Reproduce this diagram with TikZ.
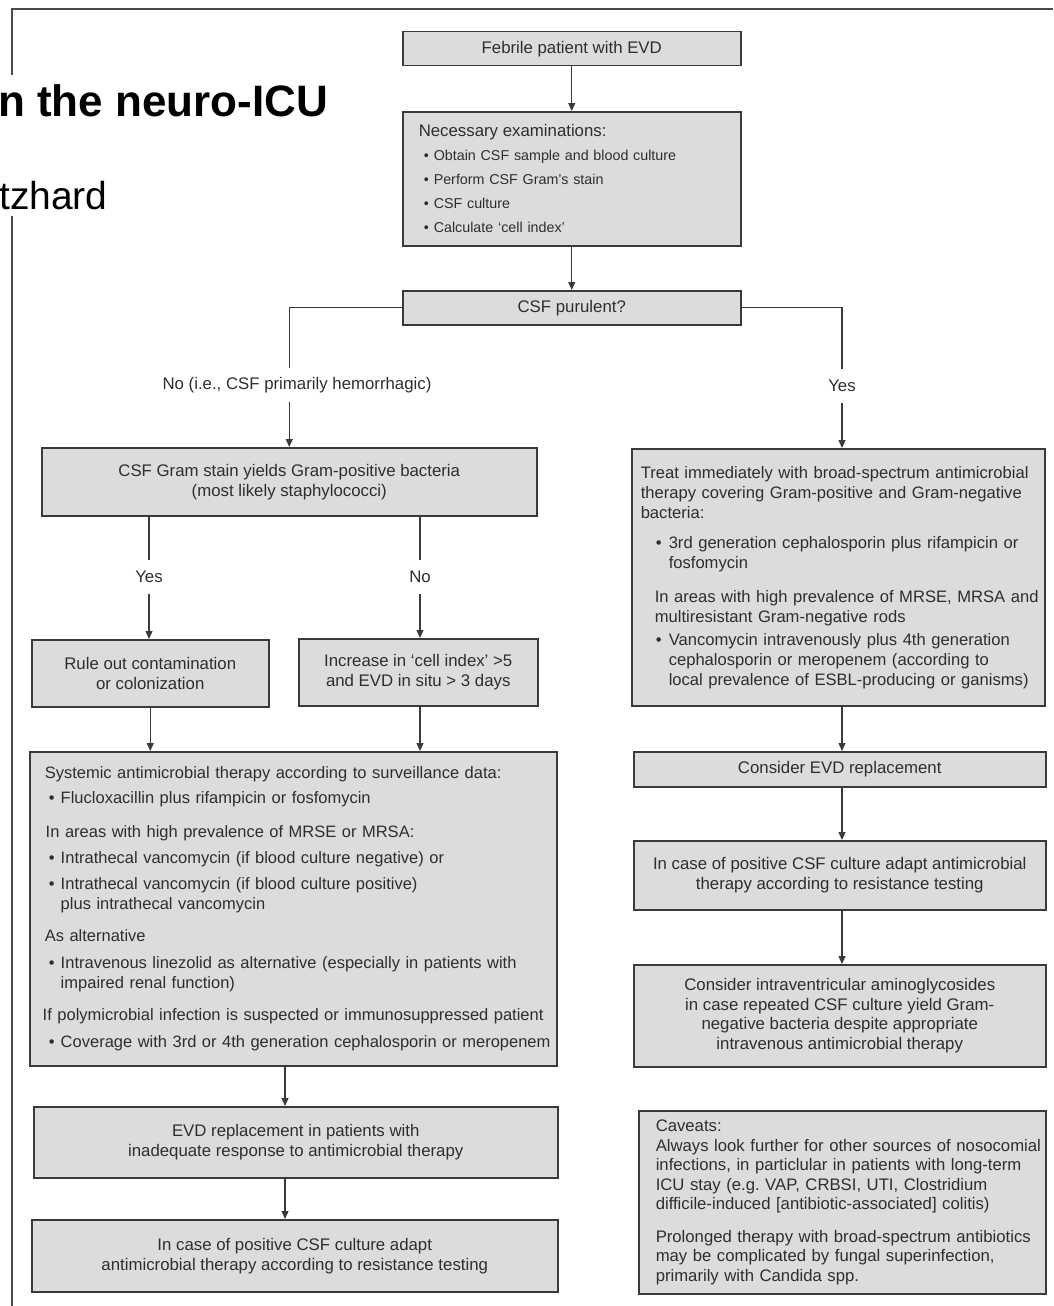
\documentclass[tikz,border=0pt]{standalone}
\usepackage{fontspec}
\setmainfont{Liberation Sans}
\usetikzlibrary{arrows.meta}
\definecolor{Ink}{HTML}{2E2E2E}
\definecolor{Edge}{HTML}{3A3A3A}
\definecolor{BoxFill}{HTML}{DCDCDE}
\definecolor{Frame}{HTML}{4A4A4A}
\newcommand{\bul}[1][13pt]{\makebox[#1][l]{\textbullet}}
\newcommand{\lmargin}[1]{\leftskip=#1\relax\rightskip=0pt plus 1fil minus 12pt\relax}
\tikzset{box/.style={draw=Edge,fill=BoxFill,line width=1.5pt,anchor=north west,inner sep=0pt,align=center,text=Ink,font=\fontsize{16.8}{20}\selectfont},txtbox/.style={box,align=left},lab/.style={inner sep=0pt,minimum height=34pt,text=Ink,font=\fontsize{16.8}{20}\selectfont},flow/.style={-{Triangle[length=8pt,width=7pt]},line width=1.2pt,draw=Edge},link/.style={line width=1.2pt,draw=Edge},frame/.style={line width=1.8pt,draw=Frame}}
\begin{document}
\begin{tikzpicture}[x=1pt,y=-1pt]
  \useasboundingbox (0,0) rectangle (1053,1306);
  % page frame and cut title
  \draw[frame] (12,75) |- (1053,9);
  \draw[frame] (12,216) -- (12,1306);
  \node[anchor=base west,inner sep=0pt,font=\fontsize{44}{50}\selectfont\bfseries] (title) at (-2,116) {n the neuro-ICU};
  \node[anchor=base west,inner sep=0pt,font=\fontsize{39}{46}\selectfont] (author) at (-1,209) {tzhard};
  % column lines
  \coordinate (lcol) at (285,0);
  \coordinate (rcol) at (842,0);
  % top
  \node[box,minimum width=338,minimum height=34] (febrile) at (402,31) {Febrile patient with EVD};
  \node[txtbox,text width=338,minimum width=338,minimum height=134,font=\fontsize{14.3}{24}\selectfont] (exams) at (402,111) {\lmargin{16pt}{\fontsize{16.8}{24}\selectfont Necessary examinations:}\\
    \hspace*{5pt}\bul[10pt]Obtain CSF sample and blood culture\\
    \hspace*{5pt}\bul[10pt]Perform CSF Gram’s stain\\
    \hspace*{5pt}\bul[10pt]CSF culture\\
    \hspace*{5pt}\bul[10pt]Calculate ‘cell index’\par};
  \node[box,minimum width=338,minimum height=34] (purulent) at (402,290) {CSF purulent?};
  \node[lab] (nolab) at (297,385) {No (i.e., CSF primarily hemorrhagic)};
  \node[lab] (yesr) at (842,386) {Yes};
  % left branch
  \node[box,minimum width=495,minimum height=68] (gram) at (41,447) {CSF Gram stain yields Gram-positive bacteria\\(most likely staphylococci)};
  \node[lab] (yesl) at (149,577) {Yes};
  \node[lab] (nol) at (420,577) {No};
  \node[box,minimum width=237,minimum height=67] (rule) at (31,639) {Rule out contamination\\or colonization};
  \node[box,minimum width=239,minimum height=67] (incr) at (298,638) {Increase in ‘cell index’ >5\\and EVD in situ > 3 days};
  \node[txtbox,text width=527,minimum width=527,minimum height=314,font=\fontsize{16.5}{20}\selectfont] (sys) at (29,751) {\lmargin{13pt}\hspace*{2pt}Systemic antimicrobial therapy according to surveillance data:\\[5pt]
    \hspace*{6pt}\bul[12pt]Flucloxacillin plus rifampicin or fosfomycin\\[14pt]
    \hspace*{3pt}In areas with high prevalence of MRSE or MRSA:\\[6pt]
    \hspace*{6pt}\bul[12pt]Intrathecal vancomycin (if blood culture negative) or\\[6pt]
    \hspace*{6pt}\bul[12pt]Intrathecal vancomycin (if blood culture positive)\\
    \hspace*{18pt}plus intrathecal vancomycin\\[12pt]
    \hspace*{2pt}As alternative\\[7pt]
    \hspace*{6pt}\bul[12pt]Intravenous linezolid as alternative (especially in patients with\\
    \hspace*{18pt}impaired renal function)\\[12pt]
    If polymicrobial infection is suspected or immunosuppressed patient\\[7pt]
    \hspace*{6pt}\bul[12pt]Coverage with 3rd or 4th generation cephalosporin or meropenem\par};
  \node[box,minimum width=524,minimum height=71] (evdl) at (33,1106) {EVD replacement in patients with\\inadequate response to antimicrobial therapy};
  \node[box,minimum width=526,minimum height=72] (casel) at (31,1219) {In case of positive CSF culture adapt\\antimicrobial therapy according to resistance testing};
  % right branch
  \node[txtbox,text width=413,minimum width=413,minimum height=257,font=\fontsize{16.6}{20}\selectfont] (treat) at (631,448) {\lmargin{9pt}Treat immediately with broad-spectrum antimicrobial\\
    therapy covering Gram-positive and Gram-negative\\
    bacteria:\\[10pt]
    \hspace*{15pt}\bul 3rd generation cephalosporin plus rifampicin or\\
    \hspace*{28pt}fosfomycin\\[14pt]
    \hspace*{14pt}In areas with high prevalence of MRSE, MRSA and\\
    \hspace*{14pt}multiresistant Gram-negative rods\\[3pt]
    \hspace*{15pt}\bul Vancomycin intravenously plus 4th generation\\
    \hspace*{28pt}cephalosporin or meropenem (according to\\
    \hspace*{28pt}local prevalence of ESBL-producing or ganisms)\par};
  \node[box,minimum width=412,minimum height=35] (evdr) at (633,751) {Consider EVD replacement};
  \node[box,minimum width=412,minimum height=69] (caser) at (633,840) {In case of positive CSF culture adapt antimicrobial\\therapy according to resistance testing};
  \node[box,minimum width=412,minimum height=102,font=\fontsize{16.8}{19.5}\selectfont] (aminor) at (633,964) {Consider intraventricular aminoglycosides\\in case repeated CSF culture yield Gram-\\negative bacteria despite appropriate\\intravenous antimicrobial therapy};
  \node[txtbox,text width=407,minimum width=407,minimum height=183,font=\fontsize{16.7}{19.5}\selectfont] (caveats) at (638,1110) {\lmargin{17pt}Caveats:\\
    Always look further for other sources of nosocomial\\
    infections, in particlular in patients with long-term\\
    ICU stay (e.g.\ VAP, CRBSI, UTI, Clostridium\\
    difficile-induced [antibiotic-associated] colitis)\\[13pt]
    Prolonged therapy with broad-spectrum antibiotics\\
    may be complicated by fungal superinfection,\\
    primarily with Candida spp.\par};
  % connectors
  \draw[flow] (febrile) -- (exams);
  \draw[flow] (exams) -- (purulent);
  \draw[link] (purulent.west) -| (nolab.north -| gram.north);
  \draw[flow] (nolab.south -| gram.north) -- (gram.north);
  \draw[link] (purulent.east) -| (yesr.north);
  \draw[flow] (yesr.south) -- (yesr.south |- treat.north);
  \draw[link] (gram.south -| yesl) -- (yesl.north);
  \draw[flow] (yesl.south) -- (yesl.south |- rule.north);
  \draw[link] (gram.south -| nol) -- (nol.north);
  \draw[flow] (nol.south) -- (nol.south |- incr.north);
  \draw[flow] (rule.south) -- (rule.south |- sys.north);
  \draw[flow] (incr.south -| nol) -- (nol |- sys.north);
  \draw[flow] (sys.south -| lcol) -- (evdl.north -| lcol);
  \draw[flow] (evdl.south -| lcol) -- (casel.north -| lcol);
  \draw[flow] (treat.south -| rcol) -- (evdr.north -| rcol);
  \draw[flow] (evdr.south -| rcol) -- (caser.north -| rcol);
  \draw[flow] (caser.south -| rcol) -- (aminor.north -| rcol);
\end{tikzpicture}
\end{document}
